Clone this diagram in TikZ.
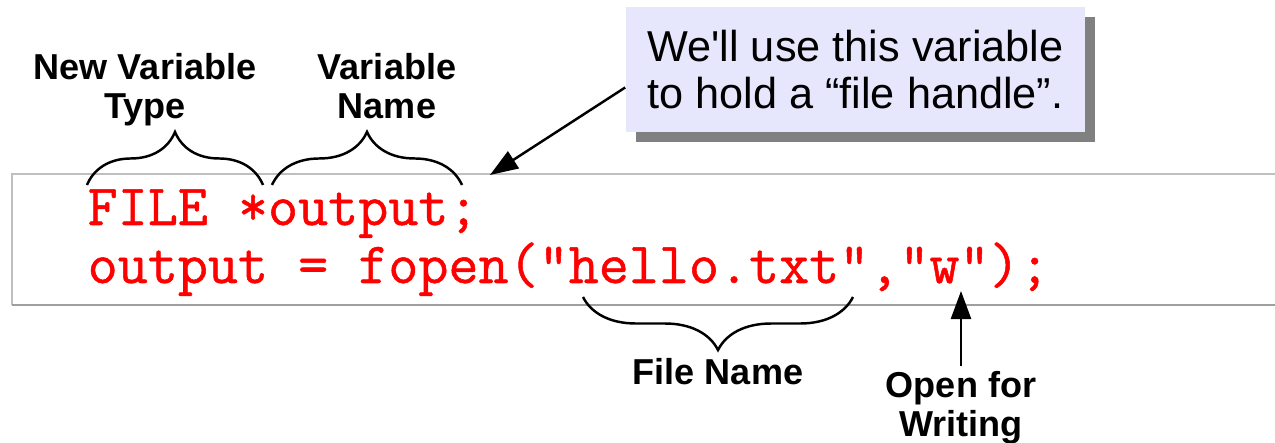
\documentclass[tikz,border=0pt]{standalone}
\usepackage{fontspec}
\setmainfont{Liberation Sans}
\newfontfamily\codefont{Latin Modern Mono}[FakeBold=0.9]
\usetikzlibrary{decorations.pathreplacing,arrows.meta,shadows}

\definecolor{notefill}{RGB}{230,230,252}

\begin{document}
\begin{tikzpicture}[x=0.01cm, y=-0.01cm,
    label/.style={font=\fontsize{10.25}{11.1}\selectfont\bfseries, align=center, inner sep=0pt},
    code/.style={font=\fontsize{16.6}{19}\selectfont\codefont, text=red, anchor=base west, inner sep=0pt},
    curly/.style={decorate, decoration={brace, amplitude=0.53cm}, line width=0.7pt},
    pointer/.style={-{Triangle[length=2.8mm,width=2mm]}, line width=0.7pt}]
  \useasboundingbox (0,0) rectangle (1275,443);

  % the code panel, open on the right
  \draw[gray!50] (1290,174) -- (12,174) -- (12,305);
  \draw[gray!75] (12,305) -- (1290,305);
  \node[code] (line1) at (87,225) {FILE *output;};
  \node[code] (line2) at (87,283) {output = fopen("hello.txt","w");};

  % braces over and under the code
  \coordinate (typeL) at (87,185);  \coordinate (typeR) at (263,185);
  \coordinate (nameL) at (272,185); \coordinate (nameR) at (462,185);
  \coordinate (fileL) at (583,297); \coordinate (fileR) at (853,297);
  \draw[curly] (typeL) -- (typeR);
  \draw[curly] (nameL) -- (nameR);
  \draw[curly] (fileR) -- (fileL);

  \node[label, anchor=north] (typelbl) at (145,53) {New Variable\\Type};
  \node[label, anchor=north] (namelbl) at (387,53) {Variable\\Name};
  \node[label, anchor=base] (filelbl) at (718,385) {File Name};
  \node[label, anchor=north] (openlbl) at (961,371) {Open for\\Writing};

  % note about the file handle
  \node[fill=notefill, align=left, minimum width=4.59cm, minimum height=1.25cm,
        font=\fontsize{12.3}{13.4}\selectfont,
        drop shadow={shadow xshift=0.1cm, shadow yshift=-0.1cm, fill=gray, opacity=1}]
    (note) at (855.5,69.5) {We\textquotesingle ll use this variable\\to hold a “file handle”.};

  \coordinate (ptrtip) at (490,175);
  \coordinate (wtip) at (961,291);
  \draw[pointer] ([yshift=-0.18cm]note.west) -- (ptrtip);
  \draw[pointer] ([yshift=0.05cm]openlbl.north) -- (wtip);
\end{tikzpicture}
\end{document}
